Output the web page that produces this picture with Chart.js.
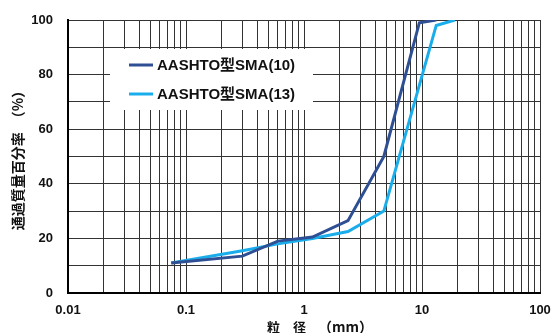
<!DOCTYPE html>
<html><head><meta charset="utf-8">
<script src="https://cdn.jsdelivr.net/npm/chart.js@4/dist/chart.umd.min.js"></script>
<style>html,body{margin:0;padding:0;background:#fff}#wrap{width:553px;height:333px}</style>
</head><body><div id="wrap"><canvas id="c"></canvas></div>
<script>
const seriesLabels = ['AASHTO型SMA(10)', 'AASHTO型SMA(13)'];
const sieveSizes10 = [0.075, 0.3, 0.6, 1.18, 2.36, 4.75, 9.5, 13.2];
const passing10   = [11, 13.5, 19, 20.5, 26.5, 50, 99, 100];
const sieveSizes13 = [0.075, 0.3, 0.6, 1.18, 2.36, 4.75, 13.2, 19];
const passing13   = [11, 15.5, 18, 20, 22.5, 30, 98, 100];
const xDecadeLabels = ['0.01', '0.1', '1', '10', '100'];
const yTickLabels = [0, 20, 40, 60, 80, 100];
const xTitleParts = ['粒　径', '（mm）'];
const yTitle = '通過質量百分率　（%）';
const colors = ['#2E4F93', '#1AADEB'];

const decades = xDecadeLabels.map(Number);
const xTickValues = [];
decades.forEach((d, i) => {
  if (i < decades.length - 1) { for (let m = 1; m <= 9; m++) xTickValues.push(+(m * d).toPrecision(3)); }
  else xTickValues.push(d);
});

const toPts = (xs, ys) => xs.map((x, i) => ({x, y: ys[i]}));

const overlayPlugin = {
  id: 'overlay',
  afterDraw(chart) {
    const ctx = chart.ctx;
    ctx.save();
    // legend inside plot area
    ctx.fillStyle = '#fff';
    ctx.fillRect(110, 49, 203, 61);
    const rows = [65, 94];
    chart.data.datasets.forEach((ds, i) => {
      ctx.strokeStyle = ds.borderColor;
      ctx.lineWidth = 3;
      ctx.beginPath(); ctx.moveTo(129, rows[i]); ctx.lineTo(153, rows[i]); ctx.stroke();
      ctx.fillStyle = '#111';
      ctx.font = 'bold 15px "Liberation Sans", "Noto Sans CJK JP", sans-serif';
      ctx.textBaseline = 'middle';
      ctx.textAlign = 'left';
      ctx.fillText(ds.label, 157, rows[i] + 1);
    });
    // axis titles
    ctx.fillStyle = '#111';
    ctx.textBaseline = 'middle';
    ctx.textAlign = 'left';
    ctx.font = 'bold 13px "Noto Sans CJK JP", sans-serif';
    ctx.fillText(xTitleParts[0], 267, 327);
    ctx.font = 'bold 14px "Noto Sans CJK JP", sans-serif';
    ctx.fillText(xTitleParts[1], 318, 327);
    ctx.translate(18, 157);
    ctx.rotate(-Math.PI / 2);
    ctx.font = 'bold 14px "Noto Sans CJK JP", sans-serif';
    ctx.textAlign = 'center';
    ctx.fillText(yTitle, 0, 0);
    ctx.restore();
  }
};

new Chart(document.getElementById('c'), {
  type: 'line',
  data: {
    datasets: [
      {label: seriesLabels[0], data: toPts(sieveSizes10, passing10), borderColor: colors[0], borderWidth: 3, pointRadius: 0, tension: 0, fill: false},
      {label: seriesLabels[1], data: toPts(sieveSizes13, passing13), borderColor: colors[1], borderWidth: 3, pointRadius: 0, tension: 0, fill: false}
    ]
  },
  options: {
    responsive: true, maintainAspectRatio: false, animation: false,
    layout: {padding: {left: 10, right: 13, top: 20, bottom: 0}},
    plugins: {legend: {display: false}, tooltip: {enabled: false}},
    scales: {
      x: {
        type: 'logarithmic', min: 0.01, max: 100,
        afterBuildTicks(s) { s.ticks = xTickValues.map(v => ({value: v})); },
        afterFit(s) { s.height = 40; s.paddingLeft = 0; s.paddingRight = 0; },
        ticks: {
          autoSkip: false, maxRotation: 0, padding: 10, color: '#111',
          font: {family: '"Liberation Sans", Arial, sans-serif', size: 13, weight: 'bold'},
          callback(v) { const k = decades.findIndex(d => Math.abs(d - v) < d * 1e-6); return k >= 0 ? xDecadeLabels[k] : ''; }
        },
        grid: {color: '#333', lineWidth: 1, drawTicks: false},
        border: {color: '#000', width: 2}
      },
      y: {
        min: 0, max: 100,
        afterBuildTicks(s) { const t = []; for (let v = 0; v <= 100; v += 10) t.push({value: v}); s.ticks = t; },
        afterFit(s) { s.width = 58; s.paddingTop = 0; s.paddingBottom = 0; },
        ticks: {
          padding: 15, color: '#111',
          font: {family: '"Liberation Sans", Arial, sans-serif', size: 13, weight: 'bold'},
          callback(v) { return yTickLabels.includes(v) ? String(v) : ''; }
        },
        grid: {color: '#333', lineWidth: 1, drawTicks: false},
        border: {color: '#000', width: 2}
      }
    }
  },
  plugins: [overlayPlugin]
});
</script></body></html>
